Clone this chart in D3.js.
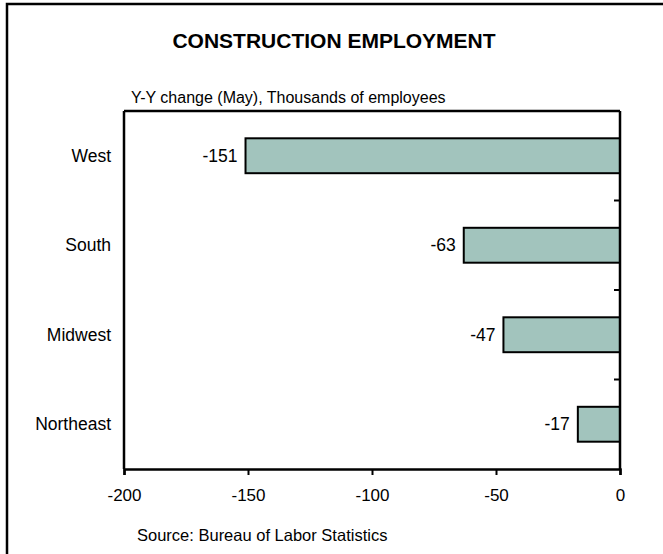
<!DOCTYPE html>
<html>
<head>
<meta charset="utf-8">
<script src="https://cdn.jsdelivr.net/npm/d3@7/dist/d3.min.js"></script>
<style>
  html, body { margin: 0; padding: 0; background: #fff; }
  svg { display: block; font-family: "Liberation Sans", Arial, sans-serif; }
</style>
</head>
<body>
<svg id="chart" width="663" height="554"></svg>
<script>
const categories = ["West", "South", "Midwest", "Northeast"];
const values = [-151, -63, -47, -17];
const xTicks = [-200, -150, -100, -50, 0];
const titleText = "CONSTRUCTION EMPLOYMENT";
const subtitleText = "Y-Y change (May), Thousands of employees";
const sourceText = "Source: Bureau of Labor Statistics";

const svg = d3.select("#chart");

// outer frame (extends beyond right/bottom of picture)
svg.append("rect")
  .attr("x", 7).attr("y", 4)
  .attr("width", 700).attr("height", 600)
  .attr("fill", "none").attr("stroke", "#000").attr("stroke-width", 2.5);

const plot = { left: 124, right: 620, top: 111, bottom: 469 };

const x = d3.scaleLinear().domain([-200, 0]).range([plot.left, plot.right]);
const pInner = 0.61;
const y = d3.scaleBand().domain(categories).range([plot.top, plot.bottom])
  .paddingInner(pInner).paddingOuter(pInner / 2);

const fmt = d => String(d); // plain hyphen-minus

// title
svg.append("text").attr("x", 334).attr("y", 48)
  .attr("text-anchor", "middle").attr("font-weight", "bold")
  .attr("font-size", 21).text(titleText);

svg.append("text").attr("x", 131).attr("y", 103)
  .attr("font-size", 16).text(subtitleText);

// bars
svg.append("g").selectAll("rect").data(values).join("rect")
  .attr("x", d => x(d))
  .attr("y", (d, i) => y(categories[i]))
  .attr("width", d => x(0) - x(d))
  .attr("height", y.bandwidth())
  .attr("fill", "#a2c4bd")
  .attr("stroke", "#000").attr("stroke-width", 2);

// value labels
svg.append("g").selectAll("text").data(values).join("text")
  .attr("x", d => x(d) - 8)
  .attr("y", (d, i) => y(categories[i]) + y.bandwidth() / 2)
  .attr("dy", "0.35em")
  .attr("text-anchor", "end")
  .attr("font-size", 17.5)
  .text(fmt);

// category labels
svg.append("g").selectAll("text").data(categories).join("text")
  .attr("x", 111)
  .attr("y", d => y(d) + y.bandwidth() / 2)
  .attr("dy", "0.35em")
  .attr("text-anchor", "end")
  .attr("font-size", 17.5)
  .text(d => d);

// frame: top and left lines
svg.append("line").attr("x1", plot.left).attr("x2", plot.right)
  .attr("y1", plot.top).attr("y2", plot.top)
  .attr("stroke", "#000").attr("stroke-width", 2.5);
svg.append("line").attr("x1", plot.left).attr("x2", plot.left)
  .attr("y1", plot.top).attr("y2", plot.bottom)
  .attr("stroke", "#000").attr("stroke-width", 2.5);

// right category axis (at x = 0) with ticks at band boundaries
const step = y.step();
const boundaries = categories.slice(1).map(c => y(c) - step * pInner / 2);
svg.append("line").attr("x1", x(0)).attr("x2", x(0))
  .attr("y1", plot.top).attr("y2", plot.bottom)
  .attr("stroke", "#000").attr("stroke-width", 2.5);
svg.append("g").selectAll("line").data(boundaries).join("line")
  .attr("x1", x(0) - 6).attr("x2", x(0))
  .attr("y1", d => d).attr("y2", d => d)
  .attr("stroke", "#000").attr("stroke-width", 2);

// bottom axis
const xAxis = d3.axisBottom(x).tickValues(xTicks).tickSize(6).tickPadding(14)
  .tickFormat(fmt);
const gx = svg.append("g").attr("transform", `translate(0,${plot.bottom})`).call(xAxis);
gx.select(".domain").attr("stroke", "#000").attr("stroke-width", 2.5);
gx.selectAll(".tick line").attr("stroke", "#000").attr("stroke-width", 2);
gx.selectAll(".tick text").attr("font-size", 17)
  .attr("font-family", "'Liberation Sans', Arial, sans-serif").attr("fill", "#000");

// source
svg.append("text").attr("x", 137).attr("y", 541)
  .attr("font-size", 16.5).text(sourceText);
</script>
</body>
</html>
